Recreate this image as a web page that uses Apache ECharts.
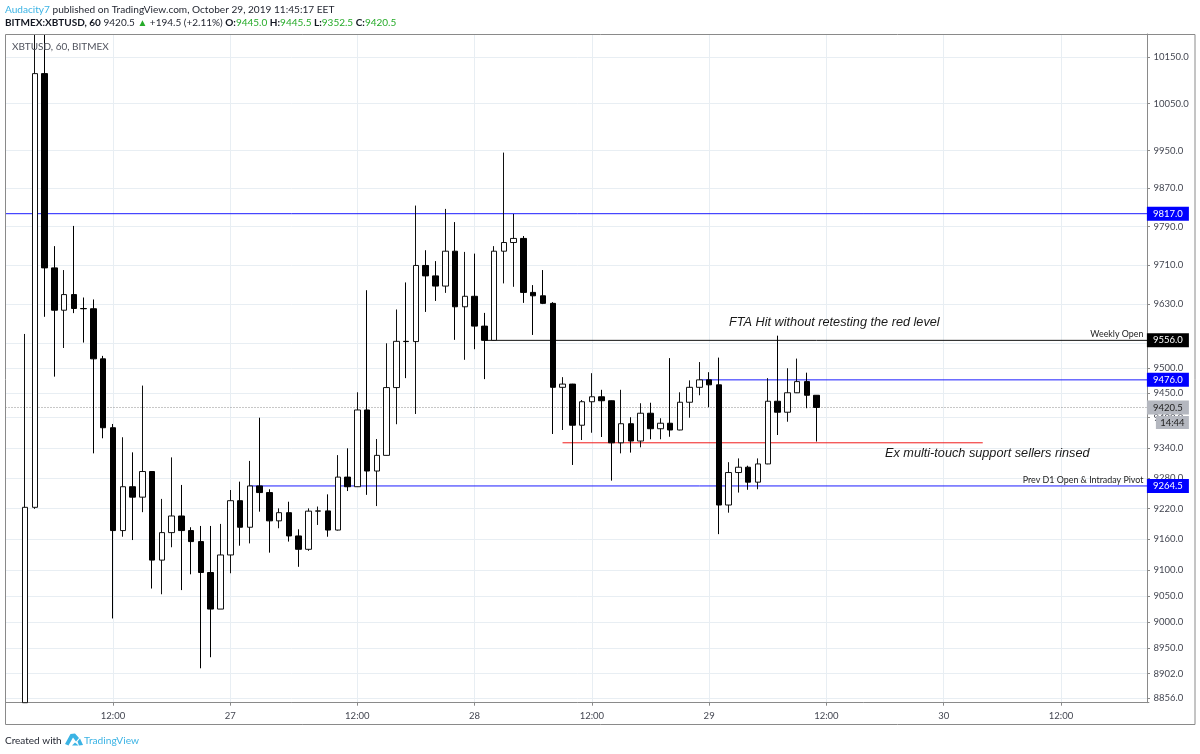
<!DOCTYPE html>
<html>
<head>
<meta charset="utf-8">
<title>XBTUSD, 60, BITMEX</title>
<style>html,body{margin:0;padding:0;background:#fff}#chart{width:1200px;height:754px}</style>
<script src="https://cdn.jsdelivr.net/npm/echarts@6/dist/echarts.min.js"></script>
</head>
<body>
<div id="chart"></div>
<script>
// Hourly candles, each row: open, close, low, high.
// The first three run off the pane, so those extremes sit at its edge.
const candles = [
  [8847,9222.5,8847,9569],[9222.5,10114,9219.5,10199.5],[10114,9704.5,9604,10199.5],[9704.5,9617.5,9482.5,9749.5],
  [9617.5,9649.5,9540.5,9700],[9649.5,9621,9611.5,9791.5],[9621,9620.5,9551.5,9643.5],[9620.5,9518.5,9329,9639.5],
  [9518.5,9380,9359,9524.5],[9380,9177,9007,9387.5],[9177,9263,9165,9361],[9263,9242.5,9158.5,9331],
  [9242.5,9293,9213,9464.5],[9293,9119.5,9064.5,9294],[9119.5,9173,9053.5,9239],[9173,9205.5,9144.5,9321],
  [9205.5,9177,9061.5,9266.5],[9177,9155.5,9092,9183.5],[9155.5,9095.5,8912,9186],[9095.5,9025,8933,9186],
  [9025,9129.5,9025,9190],[9129.5,9235.5,9094,9256.5],[9235.5,9183.5,9147.5,9273],[9183.5,9264.5,9152,9314],
  [9264.5,9251.5,9214,9400],[9251.5,9196,9134,9258],[9196,9212,9181.5,9220.5],[9212,9166.5,9155.5,9233.5],
  [9166.5,9140.5,9106.5,9179.5],[9140.5,9215,9137.5,9220.5],[9215,9215.5,9188,9224],[9215.5,9178,9165,9248],
  [9178,9282,9177,9325.5],[9282,9263,9254.5,9339],[9263,9415.5,9262.5,9451],[9415.5,9294,9247,9658.5],
  [9294,9325,9225,9357.5],[9325,9460.5,9324.5,9550],[9460.5,9554,9387,9619],[9554,9553.5,9479.5,9674.5],
  [9553.5,9709.5,9407.5,9834],[9709.5,9688,9614,9741],[9688,9667,9636.5,9718.5],[9667,9739,9653,9827],
  [9739,9624.5,9557,9799.5],[9624.5,9646,9516.5,9737.5],[9646,9585,9538,9734],[9585,9556,9477.5,9612],
  [9556,9739,9555.5,9749.5],[9739,9757,9672.5,9945.5],[9757,9765.5,9665.5,9816.5],[9765.5,9654,9632.5,9770.5],
  [9654,9647,9567,9669],[9647,9631.5,9630,9700],[9631.5,9461,9367.5,9634],[9461,9467.5,9375.5,9481.5],
  [9467.5,9385,9306,9468],[9385,9432,9355.5,9435.5],[9432,9442,9370,9489.5],[9442,9434,9361.5,9456],
  [9434,9350,9275,9434.5],[9350,9388,9329,9456],[9388,9353.5,9330.5,9401],[9353.5,9409,9341,9429],
  [9409,9378,9357,9430],[9378,9389,9357,9399],[9389,9375.5,9362,9520],[9375.5,9431,9375,9451],
  [9431,9461,9400,9475],[9461,9476,9445,9512],[9476,9466,9421,9491.5],[9466,9227,9170,9521],
  [9227,9291,9212,9311.5],[9291,9301.5,9251.5,9319],[9301.5,9272,9257,9304.5],[9272,9308,9258,9319],
  [9308,9433,9307.5,9479.5],[9433,9411,9365.5,9565.5],[9411,9450,9392,9499.5],[9450,9472.5,9449.5,9519],
  [9472.5,9445,9419,9490.5],[9445,9420.5,9352.5,9445.5]
];

// Hours on the time axis: two empty slots lead in, the session opens 26 Oct 03:00,
// and the clocks go back on the 27th so that day runs 25 hours.
const hourSlots = ['', ''];
const daySchedule = [['26', 3, 24], ['27', 0, 25], ['28', 0, 24], ['29', 0, 24], ['30', 0, 24]];
daySchedule.forEach(([day, first, count]) => {
  for (let h = first; h < first + count; h++) hourSlots.push(day + ' #' + h);
});
hourSlots.length = 118;

const timeTickSlots = [11, 23, 36, 48, 60, 72, 84, 96, 108];
const timeTickTexts = ['12:00', '27', '12:00', '28', '12:00', '29', '12:00', '30', '12:00'];
const priceTicks = [10150, 10050, 9950, 9870, 9790, 9710, 9630, 9550, 9500, 9450, 9400, 9340, 9280, 9220, 9160, 9100, 9050, 9000, 8950, 8902, 8856];

const LEAD = 2;
const LAST_SLOT = hourSlots.length - 1;
const BLUE = '#1c1cff';
const levels = [
  { value: 9817, from: 0, to: LAST_SLOT, color: BLUE },
  { value: 9476, from: 69 + LEAD, to: LAST_SLOT, color: BLUE },
  { value: 9264.5, from: 23 + LEAD, to: LAST_SLOT, color: BLUE, note: 'Prev D1 Open & Intraday Pivot' },
  { value: 9556, from: 47 + LEAD, to: LAST_SLOT, color: '#111111', note: 'Weekly Open' },
  { value: 9350, from: 55 + LEAD, to: 98 + LEAD, color: '#f01c1c' },
];
const lastPrice = 9420.5;
const countdown = '14:44';

const levelTags = [
  { value: 9817, text: '9817.0', color: '#0000ff' },
  { value: 9556, text: '9556.0', color: '#000000' },
  { value: 9476, text: '9476.0', color: '#0000ff' },
  { value: 9264.5, text: '9264.5', color: '#0000ff' },
];

const FONT = 'Lato, "Open Sans", sans-serif';
const AXIS_TEXT = '#434651';
const GRID_LINE = '#e8eef3';
const FRAME = '#8a8a8a';
const TICK_SIZE = 9.5;

const chart = echarts.init(document.getElementById('chart'), null, { renderer: 'canvas' });

const levelSeries = levels.map(l => ({
  type: 'line', z: 1, silent: true, symbol: 'none', showSymbol: false,
  data: [[l.from, l.value], [l.to, l.value]],
  lineStyle: { color: l.color, width: 1 },
  endLabel: l.note ? {
    show: true, formatter: l.note, align: 'right', distance: 0, offset: [-5.5, -6],
    color: '#222', fontSize: 8.9, fontFamily: FONT
  } : { show: false }
}));
levelSeries.push({
  type: 'line', z: 1, silent: true, symbol: 'none', showSymbol: false,
  data: [[0, lastPrice], [LAST_SLOT, lastPrice]],
  lineStyle: { color: '#8c8c8c', width: 1, type: [1, 2] }
});

const tagLabel = (text, color) => ({ show: true, position: 'inside', color, fontSize: TICK_SIZE, fontFamily: FONT, formatter: text });
const tagPoints = levelTags.map(t => ({
  coord: [LAST_SLOT, t.value], value: t.text,
  symbol: 'rect', symbolSize: [42, 14], symbolOffset: [19, 0],
  itemStyle: { color: t.color }, label: tagLabel(t.text, '#fff')
}));
tagPoints.push({
  coord: [LAST_SLOT, lastPrice], value: lastPrice,
  symbol: 'rect', symbolSize: [42, 14], symbolOffset: [19, 0],
  itemStyle: { color: '#b4b7bf' }, label: tagLabel(lastPrice.toFixed(1), '#222')
});
tagPoints.push({
  coord: [LAST_SLOT, lastPrice], value: countdown,
  symbol: 'rect', symbolSize: [33, 13], symbolOffset: [23.5, 15],
  itemStyle: { color: '#b4b7bf' }, label: tagLabel(countdown, '#222')
});

const noteStyle = { fontFamily: '"Liberation Sans", Arial, sans-serif', fontStyle: 'italic', fontSize: 12.7, fill: '#1a1a1a' };
const GREEN = '#27ab2a';
const LOGO = '#3bb3e4';

chart.setOption({
  animation: false,
  backgroundColor: '#fff',
  grid: { left: 5.5, top: 34, width: 1143.4, height: 668.7, containLabel: false },
  xAxis: {
    type: 'category', data: hourSlots, boundaryGap: false,
    axisLine: { lineStyle: { color: FRAME, width: 1 } },
    axisTick: { length: 3, lineStyle: { color: FRAME }, interval: i => timeTickSlots.includes(i) },
    axisLabel: {
      color: AXIS_TEXT, fontSize: TICK_SIZE, fontFamily: FONT, margin: 8, hideOverlap: false,
      interval: i => timeTickSlots.includes(i),
      formatter: (v, i) => timeTickTexts[timeTickSlots.indexOf(i)]
    },
    splitLine: { show: true, lineStyle: { color: GRID_LINE, width: 1 }, interval: i => timeTickSlots.includes(i) }
  },
  yAxis: {
    type: 'log', logBase: 10, position: 'right', offset: -1.9,
    min: 8847, max: 10199.6, scale: true,
    axisLine: { show: true, lineStyle: { color: FRAME, width: 1 } },
    axisTick: { show: true, length: 3, lineStyle: { color: FRAME }, customValues: priceTicks },
    axisLabel: {
      color: AXIS_TEXT, fontSize: TICK_SIZE, fontFamily: FONT, margin: 6.5, customValues: priceTicks,
      formatter: v => Number(v).toFixed(1)
    },
    splitLine: { show: true, lineStyle: { color: GRID_LINE, width: 1 } },
    minorTick: { show: false }, minorSplitLine: { show: false }
  },
  series: levelSeries.concat([{
    type: 'candlestick',
    z: 3,
    data: [['-', '-', '-', '-'], ['-', '-', '-', '-']].concat(candles),
    barWidth: 6,
    clip: true,
    silent: true,
    itemStyle: { color: '#ffffff', color0: '#000000', borderColor: '#111111', borderColor0: '#000000', borderWidth: 1 },
    markPoint: { z: 10, silent: true, animation: false, data: tagPoints }
  }]),
  graphic: [
    { type: 'rect', silent: true, z: 50, shape: { x: 5.5, y: 34.5, width: 1189.5, height: 690 }, style: { fill: 'none', stroke: FRAME, lineWidth: 1 } },
    { type: 'text', silent: true, z: 60, left: 12, top: 42, style: { text: 'XBTUSD, 60, BITMEX', fontFamily: FONT, fontSize: 10, fill: '#50535e' } },
    { type: 'text', silent: true, z: 60, left: 5, top: 5, style: {
        text: '{a|Audacity7} published on TradingView.com, October 29, 2019 11:45:17 EET',
        fontFamily: FONT, fontSize: 10.1, fill: '#1e222d', rich: { a: { fontFamily: FONT, fontSize: 10.1, fill: '#3bb3e4' } }
    } },
    { type: 'text', silent: true, z: 60, left: 5, top: 18, style: {
        text: '{b|BITMEX:XBTUSD, 60} 9420.5 {g|▲} +194.5 (+2.11%) {b|O:}{g|9445.0} {b|H:}{g|9445.5} {b|L:}{g|9352.5} {b|C:}{g|9420.5}',
        fontFamily: FONT, fontSize: 10, fill: '#1e222d',
        rich: {
          b: { fontFamily: FONT, fontSize: 10, fontWeight: 'bold', fill: '#131722' },
          g: { fontFamily: FONT, fontSize: 10, fill: GREEN }
        }
    } },
    { type: 'text', silent: true, z: 60, left: 729, top: 316, style: { ...noteStyle, text: 'FTA Hit without retesting the red level' } },
    { type: 'text', silent: true, z: 60, left: 885, top: 447, style: { ...noteStyle, text: 'Ex multi-touch support sellers rinsed' } },
    { type: 'text', silent: true, z: 60, left: 5, top: 735.5, style: { text: 'Created with', fontFamily: FONT, fontSize: 10, fill: '#1e222d' } },
    { type: 'text', silent: true, z: 60, left: 84, top: 735.5, style: { text: 'TradingView', fontFamily: FONT, fontSize: 10.2, fill: LOGO } },
    { type: 'polygon', silent: true, z: 60, shape: { points: [[65,744],[70.5,734],[75,733.5],[79,738],[76,741.5],[73,737.5],[68.5,745.5]] }, style: { fill: LOGO } },
    { type: 'polygon', silent: true, z: 60, shape: { points: [[72,745.5],[75,742.5],[78.5,745.5]] }, style: { fill: LOGO } },
    { type: 'polygon', silent: true, z: 60, shape: { points: [[77.5,741.5],[80,738.5],[83,745],[79,745.5]] }, style: { fill: LOGO } }
  ]
});
</script>
</body>
</html>
